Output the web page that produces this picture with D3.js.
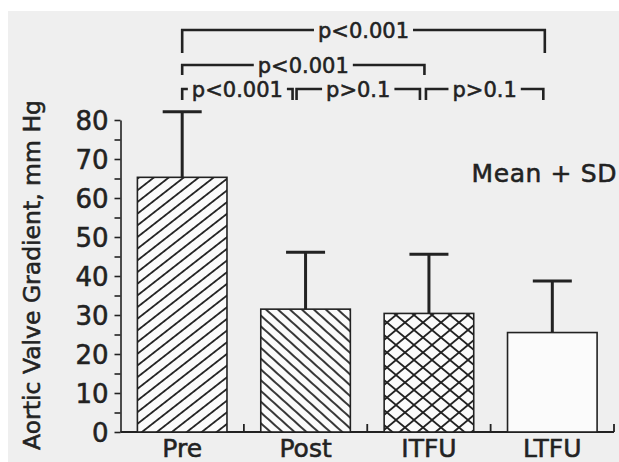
<!DOCTYPE html>
<html>
<head>
<meta charset="utf-8">
<script src="https://cdn.jsdelivr.net/npm/d3@7"></script>
<style>
  body { margin: 0; background: #fff; }
  text { font-family: "DejaVu Sans", "Noto Sans", sans-serif; fill: #222; stroke: #222; stroke-width: 0.55px; }
</style>
</head>
<body>
<svg id="chart" width="619" height="462"></svg>
<script>
// Aortic valve gradient by time point (mean and SD, mm Hg)
const categories = ["Pre", "Post", "ITFU", "LTFU"];
const means = [65.3, 31.5, 30.4, 25.5];
const sds = [16.8, 14.6, 15.2, 13.2];
const yTicks = [0, 10, 20, 30, 40, 50, 60, 70, 80];
const yMinorTicks = [5, 15, 25, 35, 45, 55, 65, 75];

// pairwise comparisons shown as brackets above the bars
const compFrom = ["Pre", "Pre", "Pre", "Post", "ITFU"];
const compTo = ["LTFU", "ITFU", "Post", "ITFU", "LTFU"];
const compLabels = ["p<0.001", "p<0.001", "p<0.001", "p>0.1", "p>0.1"];
const compLevel = [3, 2, 1, 1, 1];

const yTitle = "Aortic Valve Gradient, mm Hg";
const legendText = "Mean + SD";

const svg = d3.select("#chart");
const ink = "#222";

// page background
svg.append("rect").attr("x", 0).attr("y", 0).attr("width", 619).attr("height", 462).attr("fill", "#fff");
svg.append("rect").attr("x", 8).attr("y", 11).attr("width", 611).attr("height", 451).attr("fill", "#efefef");

// fill patterns for each bar
const defs = svg.append("defs");
function lineHatch(id, spacing, angle, width) {
  const p = defs.append("pattern").attr("id", id)
    .attr("patternUnits", "userSpaceOnUse")
    .attr("width", spacing).attr("height", spacing)
    .attr("patternTransform", `rotate(${angle})`);
  p.append("rect").attr("width", spacing).attr("height", spacing).attr("fill", "#fbfbfb");
  p.append("line").attr("x1", spacing / 2).attr("y1", 0).attr("x2", spacing / 2).attr("y2", spacing)
    .attr("stroke", ink).attr("stroke-width", width);
}
lineHatch("hatchPre", 9.2, 52, 1.8);
lineHatch("hatchPost", 8.0, -48, 1.8);
{
  const w = 18, h = 15;
  const p = defs.append("pattern").attr("id", "hatchCross")
    .attr("patternUnits", "userSpaceOnUse").attr("width", w).attr("height", h);
  p.append("rect").attr("width", w).attr("height", h).attr("fill", "#fbfbfb");
  p.append("line").attr("x1", 0).attr("y1", 0).attr("x2", w).attr("y2", h).attr("stroke", ink).attr("stroke-width", 1.8);
  p.append("line").attr("x1", w).attr("y1", 0).attr("x2", 0).attr("y2", h).attr("stroke", ink).attr("stroke-width", 1.8);
}
const fills = ["url(#hatchPre)", "url(#hatchPost)", "url(#hatchCross)", "#fbfbfb"];

// scales
const x = d3.scaleBand().domain(categories).range([120.5, 614])
  .paddingInner(0.274).paddingOuter(0.137);
const y = d3.scaleLinear().domain([0, 80]).range([432, 120]);
const cx = c => x(c) + x.bandwidth() / 2;

// y axis
const yAxis = svg.append("g").attr("transform", `translate(${x.range()[0]},0)`)
  .call(d3.axisLeft(y).tickValues(yTicks).tickSize(6).tickSizeOuter(0).tickPadding(6).tickFormat(d3.format("d")));
yAxis.select(".domain").attr("stroke", ink).attr("stroke-width", 1.6);
yAxis.selectAll(".tick line").attr("stroke", ink).attr("stroke-width", 1.6);
yAxis.selectAll(".tick text").attr("font-size", 26).attr("fill", ink)
  .attr("font-family", "DejaVu Sans, sans-serif").attr("dy", "0.36em");
const yMinor = svg.append("g").attr("transform", `translate(${x.range()[0]},0)`)
  .call(d3.axisLeft(y).tickValues(yMinorTicks).tickSize(6).tickFormat(""));
yMinor.select(".domain").remove();
yMinor.selectAll(".tick line").attr("stroke", ink).attr("stroke-width", 1.6);

// baseline with separators between groups
svg.append("line").attr("x1", x.range()[0]).attr("x2", x.range()[1])
  .attr("y1", y(0)).attr("y2", y(0)).attr("stroke", ink).attr("stroke-width", 1.8);
svg.append("g").selectAll("line").data(categories).join("line")
  .attr("x1", (d, i) => x.range()[0] + (i + 1) * x.step())
  .attr("x2", (d, i) => x.range()[0] + (i + 1) * x.step())
  .attr("y1", y(0)).attr("y2", y(0) - 8)
  .attr("stroke", ink).attr("stroke-width", 1.8);

// error bars (mean + SD)
const capW = 39;
const eb = svg.append("g");
eb.selectAll("line.stem").data(categories).join("line").attr("class", "stem")
  .attr("x1", d => cx(d)).attr("x2", d => cx(d))
  .attr("y1", (d, i) => y(means[i])).attr("y2", (d, i) => y(means[i] + sds[i]))
  .attr("stroke", ink).attr("stroke-width", 3);
eb.selectAll("line.cap").data(categories).join("line").attr("class", "cap")
  .attr("x1", d => cx(d) - capW / 2).attr("x2", d => cx(d) + capW / 2)
  .attr("y1", (d, i) => y(means[i] + sds[i])).attr("y2", (d, i) => y(means[i] + sds[i]))
  .attr("stroke", ink).attr("stroke-width", 3);

// bars
svg.append("g").selectAll("rect").data(categories).join("rect")
  .attr("x", d => x(d)).attr("width", x.bandwidth())
  .attr("y", (d, i) => y(means[i])).attr("height", (d, i) => y(0) - y(means[i]))
  .attr("fill", (d, i) => fills[i])
  .attr("stroke", ink).attr("stroke-width", 1.6);

// category labels
svg.append("g").selectAll("text").data(categories).join("text")
  .attr("x", d => cx(d)).attr("y", 457)
  .attr("text-anchor", "middle").attr("font-size", 25)
  .text(d => d);

// y axis title
svg.append("text")
  .attr("transform", "translate(40,275) rotate(-90)")
  .attr("text-anchor", "middle").attr("font-size", 23.5)
  .text(yTitle);

// legend note
svg.append("text").attr("x", 617).attr("y", 181.5)
  .attr("text-anchor", "end").attr("font-size", 25).attr("letter-spacing", 0.6)
  .text(legendText);

// comparison brackets
const levelY = { 1: 89, 2: 65, 3: 30 };
const levelDrop = { 1: 11, 2: 10, 3: 23 };
const endNudge = [[0, -7.5], [0, -4.5], [0, -13], [-9, -9], [-3, -9]];
const gap = 4;
const br = svg.append("g");
compLabels.forEach((lab, i) => {
  const x0 = cx(compFrom[i]) + endNudge[i][0];
  const x1 = cx(compTo[i]) + endNudge[i][1];
  const yy = levelY[compLevel[i]];
  const drop = levelDrop[compLevel[i]];
  const mid = (x0 + x1) / 2;
  const t = br.append("text").attr("x", mid).attr("y", yy).attr("dy", "0.36em")
    .attr("text-anchor", "middle").attr("font-size", 21).text(lab);
  const tw = t.node().getComputedTextLength();
  const path = d3.path();
  path.moveTo(x0, yy + drop); path.lineTo(x0, yy); path.lineTo(mid - tw / 2 - gap, yy);
  path.moveTo(mid + tw / 2 + gap, yy); path.lineTo(x1, yy); path.lineTo(x1, yy + drop);
  br.append("path").attr("d", path.toString()).attr("fill", "none")
    .attr("stroke", ink).attr("stroke-width", 2.6);
});
</script>
</body>
</html>
